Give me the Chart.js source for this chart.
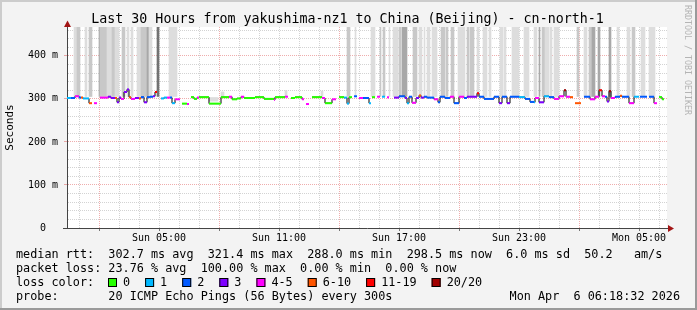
<!DOCTYPE html>
<html>
<head>
<meta charset="utf-8">
<script src="https://cdn.jsdelivr.net/npm/chart.js@4.4.1/dist/chart.umd.min.js"></script>
<style>
  html, body { margin: 0; padding: 0; background: #f3f3f3; }
  canvas { display: block; }
</style>
</head>
<body>
<canvas id="smokeChart" width="697" height="310"></canvas>
<script>
// times are minutes after Sun 00:24 (left edge), the graph spans 1800 min
// median rtt steps: start minute, value in ms (null = no data), loss class
var medStart = [
  0, 12, 24, 36, 42, 48, 66, 75, 81, 90,
  99, 123, 132, 144, 150, 156, 162, 171, 180, 186,
  192, 204, 216, 222, 231, 240, 249, 258, 264, 270,
  282, 291, 300, 309, 315, 324, 339, 345, 360, 366,
  372, 381, 390, 396, 426, 462, 486, 495, 510, 522,
  531, 564, 591, 621, 624, 654, 663, 672, 684, 705,
  711, 717, 726, 735, 765, 774, 795, 807, 816, 831,
  840, 846, 855, 861, 870, 876, 888, 906, 912, 915,
  924, 930, 939, 945, 954, 960, 966, 981, 996, 1014,
  1020, 1026, 1035, 1047, 1056, 1062, 1071, 1080, 1101, 1113,
  1119, 1134, 1149, 1161, 1176, 1191, 1200, 1230, 1236, 1251,
  1281, 1296, 1305, 1320, 1329, 1356, 1374, 1389, 1401, 1404,
  1416, 1431, 1446, 1461, 1476, 1491, 1497, 1509, 1518, 1524,
  1542, 1551, 1569, 1584, 1596, 1605, 1614, 1620, 1626, 1632,
  1644, 1659, 1665, 1686, 1701, 1716, 1719, 1740, 1746, 1761,
  1770, 1776, 1785
];
var medMs = [
  302, 302, 306, 303, 303, 301, 290, null, 290, null,
  303, 305, 302, 302, 292, 303, 300, 316, 322, 304,
  300, 302, 301, 304, 292, 304, 305, 306, 316, null,
  301, 303, 303, 303, 290, 299, null, 289, 288, null,
  304, 300, 303, 304, 289, 304, 305, 299, 301, 305,
  302, 304, 300, 298, 304, 305, null, 302, 304, 299,
  null, 288, null, 304, 302, 290, 299, null, 304, 303,
  289, 304, null, 306, null, 302, 302, 290, null, 304,
  null, 305, null, 305, null, 304, null, 303, 306, 302,
  290, 305, 291, 302, 308, 303, 305, 303, 299, 292,
  305, 302, 305, 290, 305, 302, 305, 313, 305, 300,
  305, 290, 305, 290, 305, 304, 300, 293, 292, 302,
  292, 306, 304, 300, 306, 320, 305, 304, null, 290,
  null, 305, 299, 305, 320, 306, 305, 294, 318, 302,
  305, 307, 305, 290, 305, null, 305, null, 305, 290,
  null, 304, 299
];
var medLoss = [
  1, 2, 4, 2, 5, 1, 5, null, 4, null,
  4, 3, 3, 5, 3, 3, 4, 3, 3, 5,
  4, 3, 5, 2, 3, 2, 2, 3, 6, null,
  1, 1, 4, 2, 1, 4, null, 0, 4, null,
  0, 0, 4, 0, 0, 0, 4, 0, 0, 4,
  0, 0, 0, 4, 0, 4, null, 0, 0, 4,
  null, 4, null, 0, 4, 0, 4, null, 0, 1,
  1, 0, null, 2, null, 4, 2, 1, null, 0,
  null, 4, null, 1, null, 4, null, 3, 2, 3,
  1, 2, 4, 3, 5, 3, 2, 2, 4, 2,
  2, 2, 4, 2, 4, 2, 3, 6, 2, 2,
  2, 3, 2, 3, 2, 1, 2, 2, 1, 4,
  3, 1, 2, 4, 4, 7, 4, 5, null, 5,
  null, 2, 4, 4, 6, 4, 2, 3, 7, 4,
  2, 5, 2, 4, 1, null, 2, null, 2, 4,
  null, 0, 0
];
var medEnd = 1791;

// smoke (spread of the single pings): start, end minute, shade, low/high ms
var smokeStart = [21, 30, 54, 66, 96, 99, 120, 135, 144, 165, 180, 192, 210, 222, 240, 246, 270, 306,
  426, 462, 654, 762,
  840, 864, 912, 939, 948, 966, 978, 996, 1005, 1038, 1056, 1071, 1080, 1095, 1122, 1137, 1152, 1173,
  1200, 1209, 1230, 1248, 1266, 1299, 1311, 1335, 1371, 1401, 1416, 1425, 1434, 1449, 1461, 1530,
  1551, 1566, 1575, 1593, 1626, 1650, 1680, 1695, 1722, 1746];
var smokeEnd = [30, 39, 60, 75, 99, 120, 135, 144, 156, 174, 186, 198, 222, 240, 246, 255, 276, 330,
  453, 471, 660, 768,
  849, 867, 924, 942, 954, 969, 993, 1002, 1020, 1050, 1065, 1074, 1089, 1110, 1134, 1143, 1161, 1194,
  1206, 1221, 1236, 1260, 1272, 1308, 1317, 1356, 1386, 1410, 1419, 1434, 1446, 1455, 1476, 1536,
  1560, 1575, 1584, 1599, 1632, 1656, 1689, 1704, 1734, 1764];
var smokeShade = [1, 2, 1, 2, 3, 2, 1, 2, 1, 2, 1, 1, 1, 2, 3, 1, 4, 1,
  1, 1, 1, 1,
  2, 1, 1, 2, 2, 1, 1, 2, 3, 2, 1, 1, 1, 1, 2, 2, 2, 1,
  2, 2, 1, 1, 1, 1, 1, 1, 1, 1, 3, 2, 1, 1, 1, 2,
  1, 2, 3, 3, 3, 1, 1, 2, 1, 1];
var smokeLo = [306, 306, 306, 306, 306, 306, 306, 306, 306, 306, 306, 306, 306, 306, 306, 306, 306, 306,
  295, 305, 306, 306,
  306, 306, 306, 306, 306, 306, 306, 306, 306, 306, 306, 306, 306, 306, 306, 306, 306, 306,
  306, 306, 306, 306, 306, 306, 306, 306, 306, 306, 306, 306, 306, 306, 306, 306,
  306, 306, 306, 306, 306, 306, 306, 306, 306, 306];
var smokeHi = [999, 999, 999, 999, 999, 999, 999, 999, 999, 999, 999, 999, 999, 999, 999, 999, 999, 999,
  303, 316, 319, 318,
  999, 999, 999, 999, 999, 999, 999, 999, 999, 999, 999, 999, 999, 999, 999, 999, 999, 999,
  999, 999, 999, 999, 999, 999, 999, 999, 999, 999, 999, 999, 999, 999, 999, 999,
  999, 999, 999, 999, 999, 999, 999, 999, 999, 999];

var lossColors = ['#26ff00', '#00b8ff', '#0059ff', '#7e00ff', '#ff00ff', '#ff5500', '#ff0000', '#a10000'];
var lossLabels = ['0', '1', '2', '3', '4-5', '6-10', '11-19', '20/20'];
var smokeColors = [null, '#dddddd', '#c8c8c8', '#a9a9a9', '#737373'];

var hourTicks = [];
for (var k = 0; k < 30; k++) hourTicks.push(36 + 60 * k);
var xTickLabels = {276: 'Sun 05:00', 636: 'Sun 11:00', 996: 'Sun 17:00', 1356: 'Sun 23:00', 1716: 'Mon 05:00'};
var yTicks = [];
for (var j = 0; j <= 23; j++) yTicks.push(j * 20 / 1000);
var yTickLabels = {0: '0  ', 100: '100 m', 200: '200 m', 300: '300 m', 400: '400 m'};

var title = 'Last 30 Hours from yakushima-nz1 to China (Beijing) - cn-north-1';
var statRows = [
  'median rtt:  302.7 ms avg  321.4 ms max  288.0 ms min  298.5 ms now  6.0 ms sd  50.2   am/s',
  'packet loss: 23.76 % avg  100.00 % max  0.00 % min  0.00 % now',
  'loss color:',
  'probe:       20 ICMP Echo Pings (56 Bytes) every 300s'
];
var stamp = 'Mon Apr  6 06:18:32 2026';

var MONO = '"DejaVu Sans Mono", monospace';
var minorGrid = 'rgba(130,130,130,0.35)';
var majorGrid = 'rgba(215,50,50,0.4)';

// build the datasets from the arrays above
var smokeBars = [], smokeBarColors = [];
for (var s = 0; s < smokeStart.length; s++) {
  for (var m = smokeStart[s]; m < smokeEnd[s]; m += 3) {
    smokeBars.push({x: m + 1.5, y: [smokeLo[s] / 1000, smokeHi[s] / 1000]});
    smokeBarColors.push(smokeColors[smokeShade[s]]);
  }
}

var medPts = [], medPtLoss = [], linkPts = [];
for (var i = 0; i < medStart.length; i++) {
  var end = i + 1 < medStart.length ? medStart[i + 1] : medEnd;
  var v = medMs[i] === null ? null : medMs[i] / 1000;
  linkPts.push({x: medStart[i], y: v});
  if (v !== null) {
    medPts.push({x: medStart[i], y: v}, {x: end, y: v}, {x: end, y: null});
    medPtLoss.push(medLoss[i], medLoss[i], medLoss[i]);
  }
}
linkPts.push({x: medEnd, y: medMs[medMs.length - 1] / 1000});

function hourOf(v) { return Math.round((v - 36) / 60) + 1; }

var decorations = {
  id: 'decorations',
  beforeDraw: function (chart) {
    var ctx = chart.ctx, a = chart.chartArea;
    ctx.save();
    ctx.fillStyle = '#f3f3f3';
    ctx.fillRect(0, 0, chart.width, chart.height);
    ctx.fillStyle = '#ffffff';
    ctx.fillRect(a.left, a.top, a.right - a.left, a.bottom - a.top);
    ctx.restore();
  },
  afterDraw: function (chart) {
    var ctx = chart.ctx, a = chart.chartArea;
    ctx.save();

    // axis extensions and arrows
    ctx.strokeStyle = '#444';
    ctx.lineWidth = 1;
    ctx.beginPath();
    ctx.moveTo(a.left + 0.5, a.top);
    ctx.lineTo(a.left + 0.5, 24);
    ctx.moveTo(63, a.bottom + 0.5);
    ctx.lineTo(a.left, a.bottom + 0.5);
    ctx.moveTo(a.right, a.bottom + 0.5);
    ctx.lineTo(669, a.bottom + 0.5);
    ctx.stroke();
    ctx.fillStyle = '#a31515';
    ctx.beginPath();
    ctx.moveTo(a.left + 0.5, 20.5);
    ctx.lineTo(a.left + 4, 27);
    ctx.lineTo(a.left - 3, 27);
    ctx.closePath();
    ctx.fill();
    ctx.beginPath();
    ctx.moveTo(674, a.bottom + 0.5);
    ctx.lineTo(668, a.bottom - 3);
    ctx.lineTo(668, a.bottom + 4);
    ctx.closePath();
    ctx.fill();

    // title
    ctx.fillStyle = '#000';
    ctx.textBaseline = 'alphabetic';
    ctx.textAlign = 'center';
    ctx.font = '13.3px ' + MONO;
    ctx.fillText(title, 347.5, 23);

    // statistics and legend
    ctx.textAlign = 'left';
    ctx.font = '11.8px ' + MONO;
    for (var r = 0; r < statRows.length; r++) {
      ctx.fillText(statRows[r], 16, 258 + r * 14);
    }
    ctx.textAlign = 'right';
    ctx.fillText(stamp, 680, 300);
    ctx.textAlign = 'left';
    var bx = 108;
    for (var c = 0; c < lossColors.length; c++) {
      ctx.fillStyle = lossColors[c];
      ctx.fillRect(bx, 278, 9, 9);
      ctx.strokeStyle = '#000';
      ctx.strokeRect(bx + 0.5, 278.5, 8, 8);
      ctx.fillStyle = '#000';
      ctx.fillText(lossLabels[c], bx + 15, 286);
      bx += 15 + ctx.measureText(lossLabels[c]).width + 15;
    }

    // watermark
    ctx.save();
    ctx.translate(685, 5);
    ctx.rotate(Math.PI / 2);
    ctx.font = '8.3px ' + MONO;
    ctx.fillStyle = '#b4b4b4';
    ctx.textAlign = 'left';
    ctx.fillText('RRDTOOL / TOBI OETIKER', 0, 0);
    ctx.restore();

    // frame
    ctx.fillStyle = '#cccccc';
    ctx.fillRect(0, 0, chart.width, 2);
    ctx.fillRect(0, 0, 2, chart.height);
    ctx.fillStyle = '#9a9a9a';
    ctx.fillRect(0, chart.height - 2, chart.width, 2);
    ctx.fillRect(chart.width - 2, 0, 2, chart.height);
    ctx.restore();
  }
};

var ctx = document.getElementById('smokeChart').getContext('2d');
var smokeChart = new Chart(ctx, {
  type: 'bar',
  data: {
    datasets: [{
      type: 'line',
      label: 'median',
      data: medPts,
      order: 0,
      borderWidth: 2,
      borderColor: '#26ff00',
      borderCapStyle: 'butt',
      pointRadius: 0,
      spanGaps: false,
      segment: {
        borderColor: function (c) { return lossColors[medPtLoss[c.p0DataIndex]]; }
      }
    }, {
      type: 'line',
      label: 'median steps',
      data: linkPts,
      order: 1,
      stepped: 'before',
      borderWidth: 1,
      borderColor: '#000000',
      pointRadius: 0,
      spanGaps: false
    }, {
      type: 'bar',
      label: 'smoke',
      data: smokeBars,
      order: 2,
      backgroundColor: smokeBarColors,
      borderWidth: 0,
      barThickness: 1,
      grouped: false
    }]
  },
  options: {
    responsive: false,
    animation: false,
    devicePixelRatio: 1,
    layout: { padding: { left: 0, top: 27, right: 30, bottom: 0 } },
    plugins: { legend: { display: false }, tooltip: { enabled: false } },
    scales: {
      x: {
        type: 'linear',
        min: 0,
        max: 1800,
        offset: false,
        afterBuildTicks: function (scale) {
          scale.ticks = hourTicks.map(function (t) { return {value: t}; });
        },
        afterFit: function (scale) { scale.height = 82; },
        ticks: {
          autoSkip: false,
          maxRotation: 0,
          padding: 1,
          color: '#000',
          font: { family: MONO, size: 10 },
          callback: function (value) { return xTickLabels[value] || ''; }
        },
        grid: {
          offset: false,
          tickLength: 3,
          color: function (c) { return hourOf(c.tick.value) % 6 === 2 ? majorGrid : minorGrid; },
          tickColor: function (c) { return hourOf(c.tick.value) % 3 === 2 ? '#777' : 'rgba(0,0,0,0)'; }
        },
        border: { color: '#444', dash: [1, 1] }
      },
      y: {
        min: 0,
        max: 0.467,
        afterBuildTicks: function (scale) {
          scale.ticks = yTicks.map(function (t) { return {value: t}; });
        },
        afterFit: function (scale) { scale.width = 67; },
        ticks: {
          autoSkip: false,
          padding: 6,
          color: '#000',
          font: { family: MONO, size: 10 },
          callback: function (value) {
            var ms = Math.round(value * 1000);
            return yTickLabels[ms] || '';
          }
        },
        grid: {
          tickLength: 3,
          color: function (c) { return Math.round(c.tick.value * 1000) % 100 === 0 ? majorGrid : minorGrid; },
          tickColor: function (c) {
            var ms = Math.round(c.tick.value * 1000);
            if (ms === 0) return '#444';
            return ms % 100 === 0 ? majorGrid : 'rgba(0,0,0,0)';
          }
        },
        border: { color: '#444', dash: [1, 1] },
        title: {
          display: true,
          text: 'Seconds',
          color: '#000',
          font: { family: MONO, size: 11 },
          padding: { top: 4, bottom: 0 }
        }
      }
    }
  },
  plugins: [decorations]
});
</script>
</body>
</html>
